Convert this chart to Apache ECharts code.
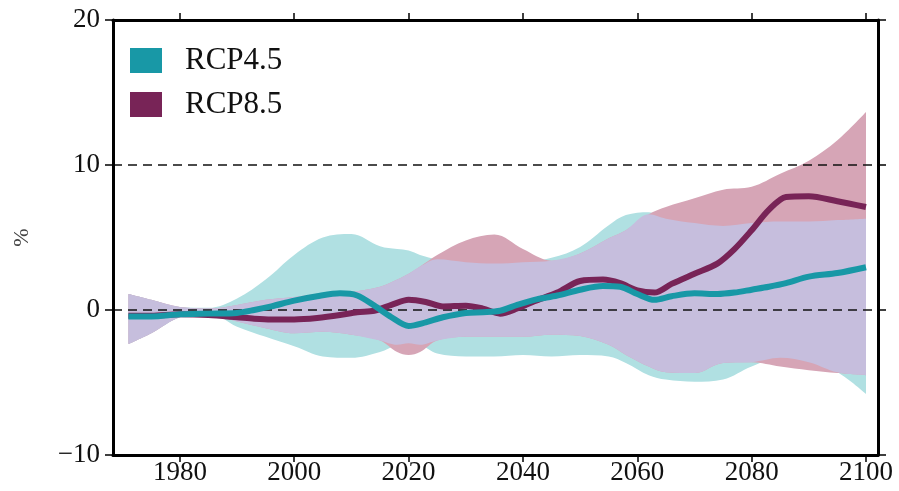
<!DOCTYPE html>
<html>
<head>
<meta charset="utf-8">
<script src="https://cdn.jsdelivr.net/npm/echarts@6/dist/echarts.min.js"></script>
<style>html,body{margin:0;padding:0;background:#fff}#c{width:899px;height:491px}</style>
</head>
<body>
<div id="c"></div>
<script>
// ---- data ----
var tickYears = [1980, 2000, 2020, 2040, 2060, 2080, 2100];
var yTicks = [-10, 0, 10, 20];
var refLines = [0, 10];
var seriesNames = ['RCP4.5', 'RCP8.5'];

var lineYears = [1971,1975,1980,1985,1990,1993,1996,2000,2004,2008,2011,2014,2017,2020,2023,2026,2030,2033,2036,2039,2042,2046,2050,2054,2057,2060,2063,2066,2070,2074,2077,2080,2083,2086,2090,2095,2100];
var rcp45Median = [-0.45,-0.45,-0.3,-0.25,-0.2,0.0,0.25,0.65,0.95,1.15,1.0,0.3,-0.5,-1.1,-0.85,-0.5,-0.2,-0.15,-0.05,0.35,0.7,1.0,1.4,1.65,1.6,1.1,0.7,0.95,1.15,1.1,1.2,1.4,1.6,1.85,2.3,2.55,2.95];
var rcp85Median = [-0.4,-0.4,-0.3,-0.35,-0.5,-0.6,-0.65,-0.65,-0.55,-0.35,-0.15,-0.05,0.35,0.7,0.55,0.25,0.3,0.1,-0.25,0.1,0.6,1.2,2.0,2.1,1.85,1.35,1.2,1.8,2.5,3.2,4.2,5.5,6.9,7.8,7.85,7.5,7.1];

var bandYears = [1971,1975,1980,1985,1990,1995,2000,2005,2010,2015,2018,2020,2022,2025,2030,2035,2040,2045,2050,2055,2058,2062,2065,2070,2075,2080,2085,2090,2095,2100];
var rcp45Upper = [1.1,0.7,0.2,0.15,0.8,2.1,3.8,5.0,5.25,4.4,4.2,4.1,3.8,3.5,3.3,3.2,3.3,3.6,4.35,5.85,6.55,6.75,6.3,6.0,5.8,6.0,6.1,6.1,6.2,6.3];
var rcp45Lower = [-2.35,-1.6,-0.5,-0.2,-1.15,-1.85,-2.5,-3.2,-3.3,-2.9,-2.4,-2.3,-2.4,-3.0,-3.2,-3.2,-3.1,-3.2,-3.1,-3.2,-3.65,-4.5,-4.8,-4.95,-4.8,-3.9,-3.3,-3.6,-4.3,-5.8];
var rcp85Upper = [1.1,0.7,0.2,0.1,0.35,0.7,0.9,1.15,1.25,1.6,2.1,2.5,3.0,3.8,4.8,5.2,4.2,3.4,3.9,4.95,5.5,6.6,7.1,7.7,8.3,8.5,9.4,10.3,11.7,13.65];
var rcp85Lower = [-2.35,-1.6,-0.5,-0.3,-0.8,-1.25,-1.6,-1.5,-1.7,-2.1,-2.9,-3.1,-2.9,-2.1,-1.85,-1.85,-1.85,-1.7,-1.8,-2.4,-3.1,-3.9,-4.3,-4.35,-3.65,-3.6,-3.9,-4.15,-4.35,-4.5];

// ---- build ----
function pairs(xs, ys) { return xs.map(function (x, i) { return [x, ys[i]]; }); }
// value first, year second (so the stack applies to the value dimension)
function vpairs(xs, ys) { return xs.map(function (x, i) { return [ys[i], x]; }); }
function diff(a, b) { return a.map(function (v, i) { return +(v - b[i]).toFixed(3); }); }
var overlapLower = rcp45Lower.map(function (v, i) { return Math.max(v, rcp85Lower[i]); });
var overlapUpper = rcp45Upper.map(function (v, i) { return Math.min(v, rcp85Upper[i]); });

var SERIF = '"Liberation Serif", "Times New Roman", serif';
var cCyan = '#1898a6', cPurple = '#782457';
var fCyan = '#b0e0e2', fPink = '#d6a5b6', fLav = '#c6bedd';

function band(name, lower, upper, color, z) {
  return [
    { type: 'line', name: name + '_base', stack: name, stackStrategy: 'all', data: vpairs(bandYears, lower),
      encode: { x: 1, y: 0 }, symbol: 'none', smooth: 0.35, lineStyle: { opacity: 0 }, silent: true, z: z },
    { type: 'line', name: name + '_range', stack: name, stackStrategy: 'all', data: vpairs(bandYears, diff(upper, lower)),
      encode: { x: 1, y: 0 }, symbol: 'none', smooth: 0.35, lineStyle: { opacity: 0 },
      areaStyle: { color: color, opacity: 1 }, silent: true, z: z }
  ];
}

var series = [].concat(
  band('b45', rcp45Lower, rcp45Upper, fCyan, 1),
  band('b85', rcp85Lower, rcp85Upper, fPink, 2),
  band('bov', overlapLower, overlapUpper, fLav, 3),
  [
    { type: 'line', name: seriesNames[0], data: pairs(lineYears, rcp45Median), symbol: 'none', smooth: 0.3,
      lineStyle: { color: cCyan, width: 6 }, itemStyle: { color: cCyan }, z: 6 },
    { type: 'line', name: seriesNames[1], data: pairs(lineYears, rcp85Median), symbol: 'none', smooth: 0.3,
      lineStyle: { color: cPurple, width: 6 }, itemStyle: { color: cPurple }, z: 5 },
    { type: 'line', name: 'ref', data: [], z: 8, silent: true,
      markLine: { silent: true, symbol: ['none', 'none'], label: { show: false },
        lineStyle: { color: '#111', width: 1.5, type: [9, 6] },
        data: refLines.map(function (v) { return { yAxis: v }; }) } }
  ]
);

function yearFmt(v) { return String(v); }
function valFmt(v) { return v < 0 ? '\u2212' + Math.abs(v) : String(v); }

var chart = echarts.init(document.getElementById('c'), null, { renderer: 'canvas' });
chart.setOption({
  animation: false,
  backgroundColor: '#fff',
  grid: { left: 113, right: 21, top: 20, bottom: 36, containLabel: false },
  legend: {
    data: seriesNames, orient: 'vertical', left: 130, top: 45, padding: 0, itemWidth: 32, itemHeight: 25, itemGap: 13,
    icon: 'rect', textStyle: { fontFamily: SERIF, fontSize: 31, lineHeight: 25, color: '#111', padding: [0, 0, 0, 18] }
  },
  xAxis: [
    { type: 'value', min: 1968.3, max: 2102.1, position: 'bottom',
      axisLine: { show: true, onZero: false, lineStyle: { color: '#000', width: 3 } },
      axisTick: { show: true, inside: false, length: 7, customValues: tickYears, lineStyle: { color: '#000', width: 1.5 } },
      axisLabel: { customValues: tickYears, formatter: yearFmt, fontFamily: SERIF, fontSize: 27, color: '#111', margin: 4 },
      splitLine: { show: false } },
    { type: 'value', min: 1968.3, max: 2102.1, position: 'top',
      axisLine: { show: true, onZero: false, lineStyle: { color: '#000', width: 3 } },
      axisTick: { show: true, inside: false, length: 7, customValues: tickYears, lineStyle: { color: '#000', width: 1.5 } },
      axisLabel: { show: false }, splitLine: { show: false } }
  ],
  yAxis: [
    { type: 'value', min: -10, max: 20, interval: 10, position: 'left',
      name: '%', nameLocation: 'middle', nameGap: 80, nameRotate: 90,
      nameTextStyle: { fontFamily: SERIF, fontSize: 22, color: '#444' },
      axisLine: { show: true, onZero: false, lineStyle: { color: '#000', width: 3 } },
      axisTick: { show: true, inside: false, length: 8, lineStyle: { color: '#000', width: 1.5 } },
      axisLabel: { formatter: valFmt, fontFamily: SERIF, fontSize: 27, color: '#111', margin: 13 },
      splitLine: { show: false }, z: 10 },
    { type: 'value', min: -10, max: 20, interval: 10, position: 'right',
      axisLine: { show: true, onZero: false, lineStyle: { color: '#000', width: 3 } },
      axisTick: { show: true, inside: false, length: 8, lineStyle: { color: '#000', width: 1.5 } },
      axisLabel: { show: false }, splitLine: { show: false } }
  ],
  series: series
});
</script>
</body>
</html>
